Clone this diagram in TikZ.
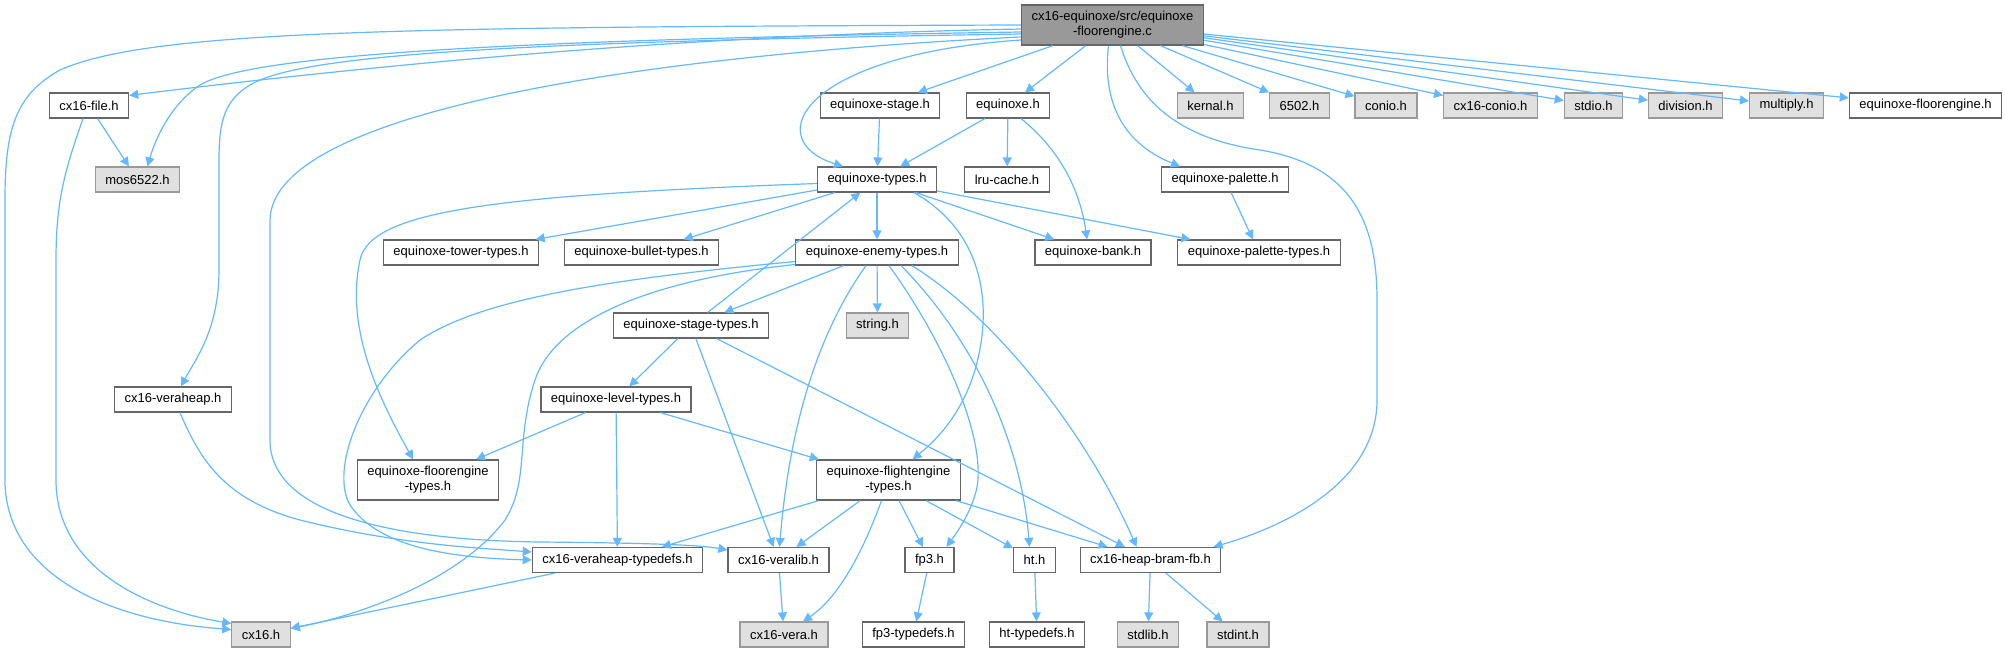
\documentclass[tikz,border=0pt]{standalone}
\usepackage{fontspec}
\setmainfont{Liberation Sans}
\usetikzlibrary{arrows.meta,calc}

\definecolor{incblue}{HTML}{63B8FF}
\definecolor{boxgray}{HTML}{666666}
\definecolor{sysgray}{HTML}{999999}
\definecolor{sysfill}{HTML}{E0E0E0}
\definecolor{rootfill}{HTML}{999999}

\tikzset{
  hdr/.style={draw=boxgray,fill=white,line width=0.6pt,inner xsep=5pt,inner ysep=0pt,
    minimum height=12.5pt,align=center,font=\fontsize{6.5pt}{7.5pt}\selectfont},
  sys/.style={hdr,draw=sysgray,fill=sysfill},
  root/.style={hdr,fill=rootfill},
  twoline/.style={minimum height=20pt},
  inc/.style={draw=incblue,line width=0.6pt,-{Triangle[length=4.5pt,width=4.5pt]}},
}

\begin{document}
\begin{tikzpicture}[x=0.5pt,y=-0.5pt]
  \useasboundingbox (0,0) rectangle (2006,652);
  % the source file
  \node[root,twoline] (main) at (1112.5,25) {cx16-equinoxe/src/equinoxe\\-floorengine.c};
  % headers included directly
  \node[hdr] (file) at (89,105.5) {cx16-file.h};
  \node[hdr] (stage) at (880,105.5) {equinoxe-stage.h};
  \node[hdr] (eqx) at (1008,105.5) {equinoxe.h};
  \node[sys] (kernal) at (1210.5,105.5) {kernal.h};
  \node[sys] (m6502) at (1299.5,105.5) {6502.h};
  \node[sys] (conio) at (1386,105.5) {conio.h};
  \node[sys] (cxconio) at (1490.5,105.5) {cx16-conio.h};
  \node[sys] (stdio) at (1593.5,105.5) {stdio.h};
  \node[sys] (division) at (1685.5,105.5) {division.h};
  \node[sys] (multiply) at (1786.5,105.5) {multiply.h};
  \node[hdr] (floorh) at (1925.5,105.5) {equinoxe-floorengine.h};
  % second row
  \node[sys] (mos) at (137.5,179.5) {mos6522.h};
  \node[hdr] (types) at (877,179.5) {equinoxe-types.h};
  \node[hdr] (lru) at (1007,179.5) {lru-cache.h};
  \node[hdr] (palette) at (1225,179.5) {equinoxe-palette.h};
  % the type headers
  \node[hdr] (tower) at (461,252.5) {equinoxe-tower-types.h};
  \node[hdr] (bullet) at (641.5,252.5) {equinoxe-bullet-types.h};
  \node[hdr] (enemy) at (877,252.5) {equinoxe-enemy-types.h};
  \node[hdr] (bank) at (1093,252.5) {equinoxe-bank.h};
  \node[hdr] (paltypes) at (1259,252.5) {equinoxe-palette-types.h};
  \node[hdr] (stagetypes) at (691,325.5) {equinoxe-stage-types.h};
  \node[sys] (string) at (877.5,325.5) {string.h};
  \node[hdr] (veraheap) at (173,399.5) {cx16-veraheap.h};
  \node[hdr] (level) at (616,399.5) {equinoxe-level-types.h};
  \node[hdr,twoline] (floortypes) at (428,480) {equinoxe-floorengine\\-types.h};
  \node[hdr,twoline] (flighttypes) at (888.5,480) {equinoxe-flightengine\\-types.h};
  % library headers
  \node[hdr] (vhtypedefs) at (617.5,560) {cx16-veraheap-typedefs.h};
  \node[hdr] (veralib) at (778.5,560) {cx16-veralib.h};
  \node[hdr] (fp3) at (929.5,560) {fp3.h};
  \node[hdr] (ht) at (1034.5,560) {ht.h};
  \node[hdr] (heap) at (1150.5,560) {cx16-heap-bram-fb.h};
  \node[sys] (cx16) at (261,634.5) {cx16.h};
  \node[sys] (vera) at (784,634.5) {cx16-vera.h};
  \node[hdr] (fp3td) at (913.5,634.5) {fp3-typedefs.h};
  \node[hdr] (httd) at (1037,634.5) {ht-typedefs.h};
  \node[sys] (stdlib) at (1148,634.5) {stdlib.h};
  \node[sys] (stdint) at (1238,634.5) {stdint.h};

  % straight include edges
  \foreach \t in {stage,eqx,kernal,m6502,conio,cxconio,stdio,division,multiply,floorh}
    \draw[inc] (main) -- (\t);
  \foreach \s/\t in {file/mos,stage/types,eqx/types,eqx/lru,palette/paltypes,
      types/tower,types/bullet,types/enemy,types/bank,types/paltypes,
      stagetypes/types,enemy/stagetypes,enemy/string,
      stagetypes/level,stagetypes/veralib,stagetypes/heap,
      level/floortypes,level/vhtypedefs,level/flighttypes,
      flighttypes/vhtypedefs,flighttypes/veralib,flighttypes/fp3,flighttypes/ht,flighttypes/heap,
      veralib/vera,fp3/fp3td,ht/httd,heap/stdlib,heap/stdint,vhtypedefs/cx16}
    \draw[inc] (\s) -- (\t);

  % long edges leaving the source file to the left
  \draw[inc] (main.west) .. controls (400,27) and (150,30) .. (60,70)
    .. controls (15,95) and (5,130) .. (5,200) -- (5,480)
    .. controls (5,570) and (100,620) .. ($(cx16.west)+(0,-5)$);
  \draw[inc] ($(main.west)+(0,4)$) .. controls (700,35) and (400,62) .. ($(file.north east)+(0,3)$);
  \draw[inc] ($(main.west)+(0,7)$) .. controls (500,40) and (250,55) .. (200,85)
    .. controls (170,105) and (155,140) .. ($(mos.north)+(10,0)$);
  \draw[inc] ($(main.west)+(0,9)$) .. controls (500,42) and (300,55) .. (250,85)
    .. controls (225,100) and (219,120) .. (219,160) -- (219,270)
    .. controls (219,330) and (195,360) .. ($(veraheap.north)+(8,0)$);
  \draw[inc] ($(main.west)+(0,12)$) .. controls (650,55) and (272,110) .. (270,220) -- (270,440)
    .. controls (270,510) and (380,540) .. (540,542)
    .. controls (650,543) and (700,545) .. ($(veralib.west)+(0,-10)$);
  \draw[inc] ($(main.west)+(0,15)$) .. controls (800,55) and (760,140) .. ($(types.north)+(-34,0)$);
  % edges leaving the source file downwards
  \draw[inc] ($(main.south)+(-4,0)$) .. controls (1100,120) and (1140,150) .. ($(palette.north)+(-45,0)$);
  \draw[inc] ($(main.south)+(8,0)$) .. controls (1140,110) and (1190,140) .. (1260,150)
    .. controls (1350,165) and (1377,220) .. (1377,300) -- (1377,400)
    .. controls (1377,480) and (1290,525) .. ($(heap.north east)+(-8,0)$);

  % other curved edges
  \draw[inc] ($(file.south)+(-6,0)$) .. controls (65,170) and (56,200) .. (56,260) -- (56,480)
    .. controls (56,570) and (150,610) .. ($(cx16.west)+(0,-11)$);
  \draw[inc] ($(eqx.south)+(13,0)$) .. controls (1060,150) and (1080,190) .. ($(bank.north)+(-6,0)$);
  \draw[inc] ($(types.west)+(0,4)$) .. controls (500,195) and (370,210) .. (360,260)
    .. controls (345,330) and (380,400) .. ($(floortypes.north)+(-15,0)$);
  \draw[inc] ($(types.south)+(37,0)$) .. controls (980,230) and (995,300) .. (975,370)
    .. controls (960,420) and (930,445) .. ($(flighttypes.north)+(24,0)$);
  \draw[inc] ($(enemy.west)+(0,9)$) .. controls (600,280) and (480,300) .. (420,340)
    .. controls (360,390) and (330,470) .. (350,505)
    .. controls (380,550) and (460,558) .. (vhtypedefs.west);
  \draw[inc] ($(enemy.west)+(0,12)$) .. controls (650,280) and (555,320) .. (535,380)
    .. controls (515,440) and (530,480) .. (505,520)
    .. controls (460,580) and (360,615) .. ($(cx16.east)+(0,-6)$);
  \draw[inc] ($(enemy.south)+(-11,0)$) .. controls (820,330) and (790,420) .. ($(veralib.north)+(1,0)$);
  \draw[inc] ($(enemy.south)+(12,0)$) .. controls (950,350) and (990,450) .. (975,495)
    .. controls (968,518) and (955,535) .. ($(fp3.north east)+(-8,0)$);
  \draw[inc] ($(enemy.south)+(24,0)$) .. controls (965,330) and (1020,430) .. ($(ht.north)+(-5,0)$);
  \draw[inc] ($(enemy.south east)+(-47,0)$) .. controls (1000,320) and (1090,440) .. ($(heap.north)+(-14,0)$);
  \draw[inc] ($(veraheap.south)+(7,0)$) .. controls (200,460) and (225,500) .. (300,520)
    .. controls (400,545) and (480,548) .. ($(vhtypedefs.west)+(0,-8)$);
  \draw[inc] ($(flighttypes.south)+(-7,0)$) .. controls (860,560) and (835,600) .. ($(vera.north)+(19,0)$);
\end{tikzpicture}
\end{document}
